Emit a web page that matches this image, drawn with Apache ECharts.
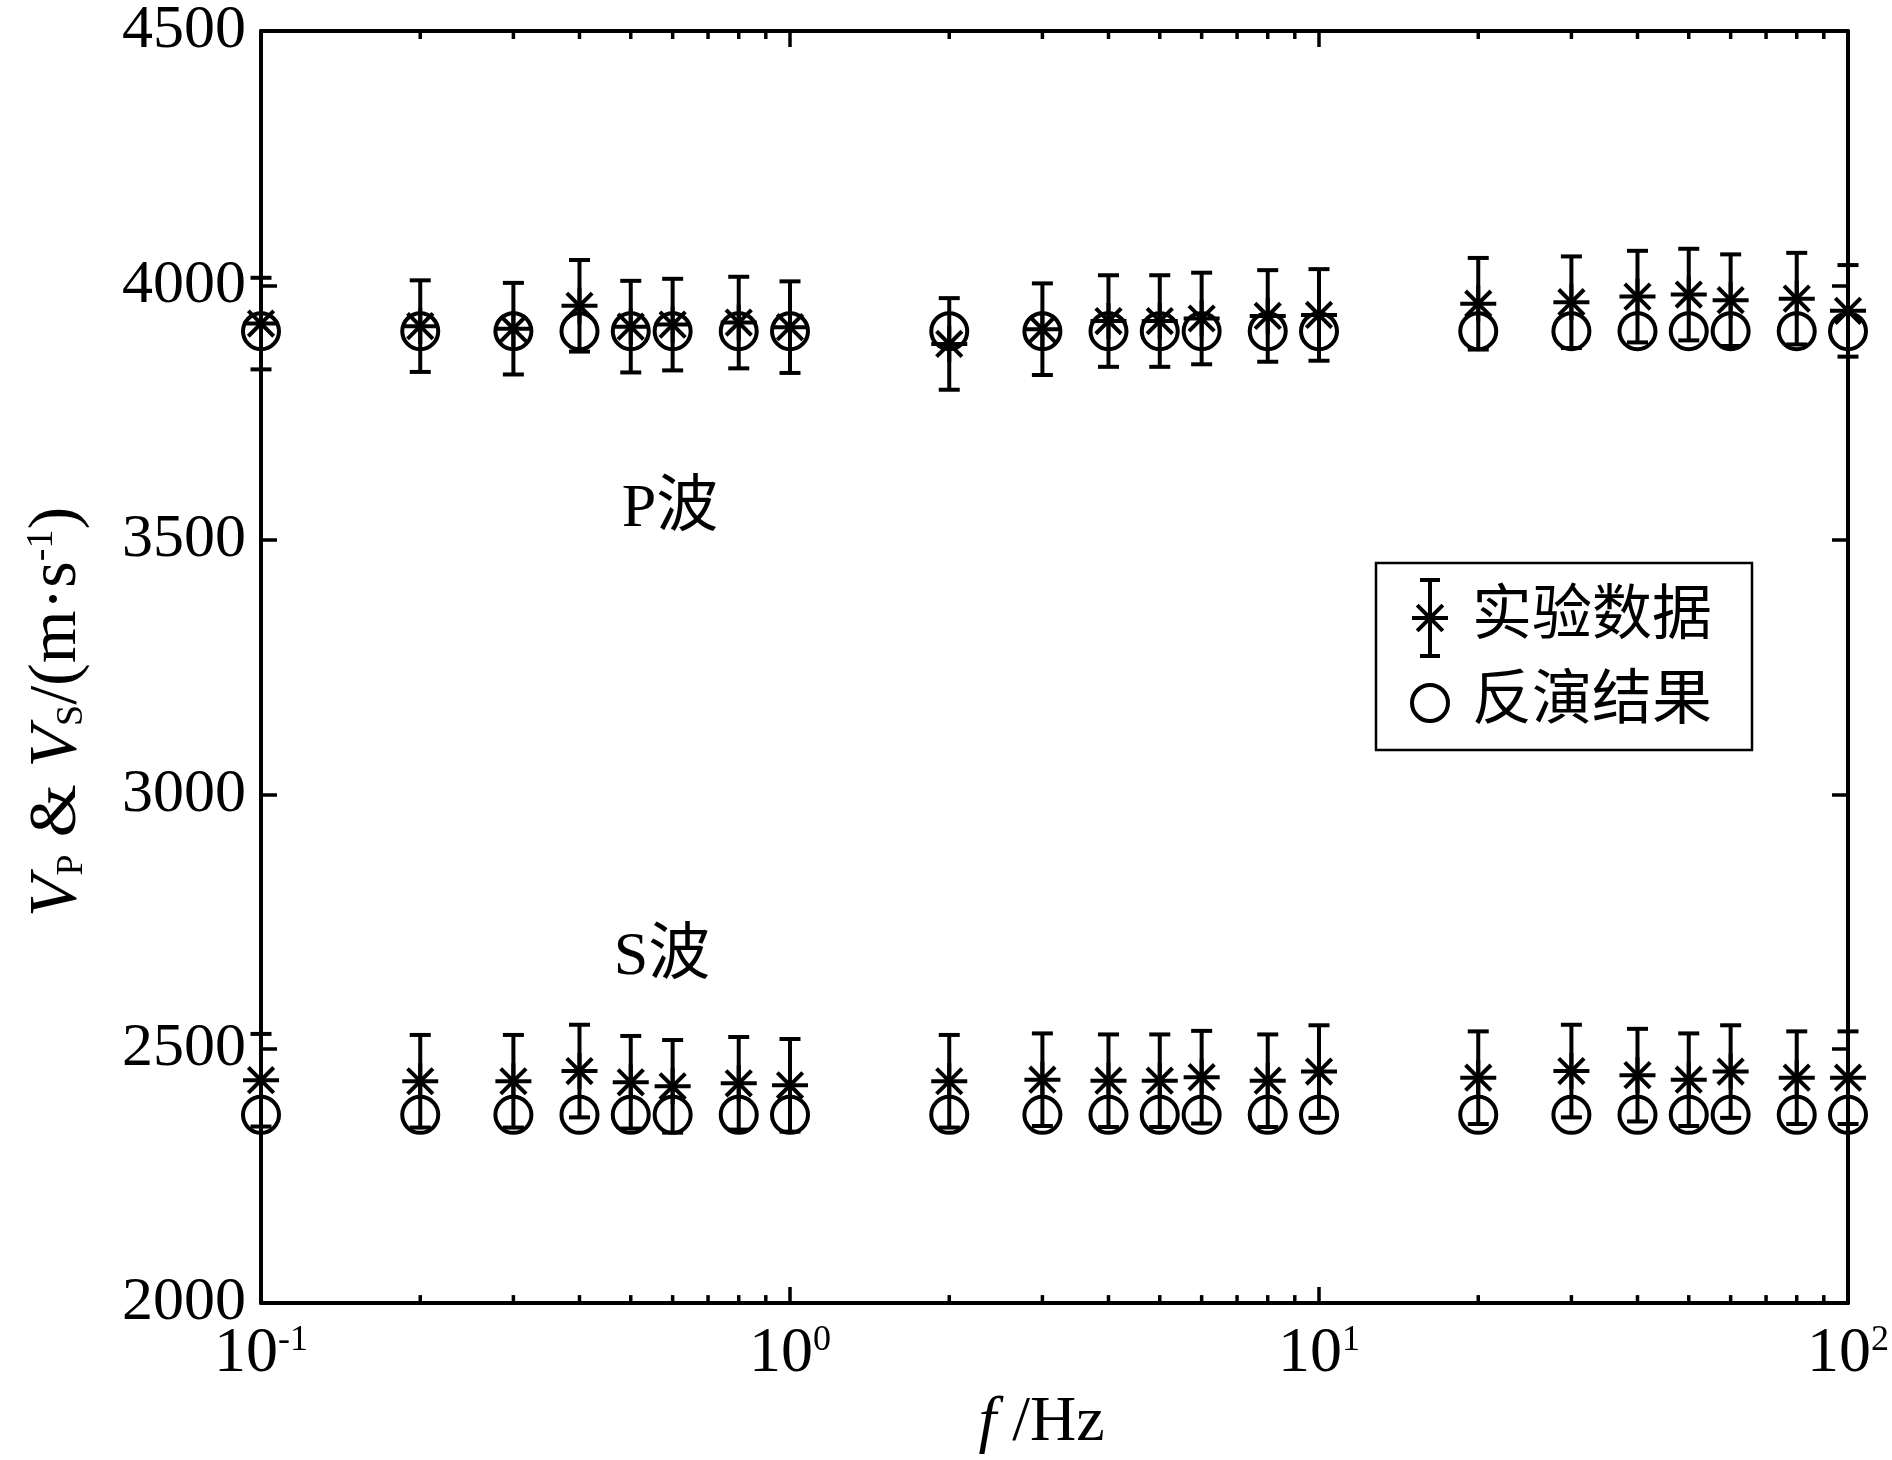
<!DOCTYPE html>
<html lang="zh">
<head>
<meta charset="UTF-8">
<title>VP & VS vs f</title>
<style>
  html, body { margin: 0; padding: 0; background: #fff; }
  #main { width: 1892px; height: 1460px; }
</style>
</head>
<body>
<div id="main"></div>
<script src="https://cdn.jsdelivr.net/npm/echarts@6/dist/echarts.min.js"></script>
<script>
    // frequencies (Hz)
    var freqs = [0.1, 0.2, 0.3, 0.4, 0.5, 0.6, 0.8, 1, 2, 3, 4, 5, 6, 8, 10, 20, 30, 40, 50, 60, 80, 100];

    // P wave: experiment (with error) and inversion
    var pExp = [3925, 3920, 3915, 3960, 3919, 3923, 3927, 3918, 3885, 3914, 3930, 3930, 3935, 3940, 3942, 3964, 3967, 3978, 3982, 3971, 3974, 3950];
    var pErr = [90, 90, 90, 90, 90, 90, 90, 90, 90, 90, 90, 90, 90, 90, 90, 90, 90, 90, 90, 90, 90, 90];
    var pInv = [3910, 3910, 3910, 3910, 3910, 3910, 3910, 3910, 3910, 3910, 3910, 3910, 3910, 3910, 3910, 3910, 3910, 3910, 3910, 3910, 3910, 3910];

    // S wave
    var sExp = [2438, 2436, 2436, 2456, 2434, 2426, 2432, 2428, 2436, 2439, 2437, 2437, 2444, 2437, 2455, 2443, 2456, 2448, 2439, 2455, 2443, 2443];
    var sErr = [91, 91, 91, 91, 91, 91, 91, 91, 91, 91, 91, 91, 91, 91, 91, 91, 91, 91, 91, 91, 91, 91];
    var sInv = [2370, 2370, 2370, 2370, 2370, 2370, 2370, 2370, 2370, 2370, 2370, 2370, 2370, 2370, 2370, 2370, 2370, 2370, 2370, 2370, 2370, 2370];

    // axes
    var yMin = 2000, yMax = 4500, yStep = 500;
    var xMin = 0.1, xMax = 100;
    var xTickSup = ['-1', '0', '1', '2'];
    var minorTicks = [0.2, 0.3, 0.4, 0.5, 0.6, 0.7, 0.8, 0.9, 2, 3, 4, 5, 6, 7, 8, 9, 20, 30, 40, 50, 60, 70, 80, 90];

    var serif = "'Liberation Serif', 'Times New Roman', 'Noto Sans CJK SC', serif";
    var cjk = "'Liberation Serif', 'Noto Sans CJK SC', serif";
    var LW = 4;

    function pack(vals, errs) {
        return freqs.map(function (f, i) { return errs ? [f, vals[i], errs[i]] : [f, vals[i]]; });
    }

    function renderErr(params, api) {
        var f = api.value(0), v = api.value(1), e = api.value(2);
        var c = api.coord([f, v]);
        var t = api.coord([f, v + e]);
        var b = api.coord([f, v - e]);
        var cap = 10.5, arm = 18, d = 12.7;
        var st = { stroke: '#000', lineWidth: LW, fill: null };
        function ln(x1, y1, x2, y2) {
            return { type: 'line', shape: { x1: x1, y1: y1, x2: x2, y2: y2 }, style: st };
        }
        return {
            type: 'group',
            children: [
                ln(c[0], t[1], c[0], b[1]),
                ln(c[0] - cap, t[1], c[0] + cap, t[1]),
                ln(c[0] - cap, b[1], c[0] + cap, b[1]),
                ln(c[0] - arm, c[1], c[0] + arm, c[1]),
                ln(c[0], c[1] - arm, c[0], c[1] + arm),
                ln(c[0] - d, c[1] - d, c[0] + d, c[1] + d),
                ln(c[0] - d, c[1] + d, c[0] + d, c[1] - d)
            ]
        };
    }

    function renderMinor(params, api) {
        var b = api.coord([api.value(0), yMin]);
        var t = api.coord([api.value(0), yMax]);
        var st = { stroke: '#000', lineWidth: 3.5 };
        return {
            type: 'group',
            children: [
                { type: 'line', shape: { x1: b[0], y1: b[1], x2: b[0], y2: b[1] - 8 }, style: st },
                { type: 'line', shape: { x1: t[0], y1: t[1], x2: t[0], y2: t[1] + 8 }, style: st }
            ]
        };
    }

    var errIcon = 'path://M16,0H20V80H16ZM8,0H28V4H8ZM8,76H28V80H8ZM0,38H36V42H0Z' +
        'M6.59,25.76L32.24,51.41L29.41,54.24L3.76,28.59ZM3.76,51.41L29.41,25.76L32.24,28.59L6.59,54.24Z';

    var circleStyle = { color: 'rgba(0,0,0,0)', borderColor: '#000', borderWidth: LW, opacity: 1 };

    var chartDom = document.getElementById('main');
    var myChart = echarts.init(chartDom);
    var option;

    option = {
        backgroundColor: '#fff',
        animation: false,
        grid: { left: 261, right: 38, top: 31, bottom: 140 },
        legend: {
            orient: 'vertical',
            left: 1376,
            top: 563,
            itemWidth: 36,
            itemHeight: 80,
            itemGap: 15,
            padding: [15, 40, 17, 34],
            borderColor: '#000',
            borderWidth: 2.5,
            backgroundColor: '#fff',
            textStyle: { fontSize: 60, fontFamily: cjk, color: '#000', padding: [0, 0, 0, 19] },
            data: [
                { name: '实验数据', icon: errIcon, itemStyle: { color: '#000', borderWidth: 0, opacity: 1 } },
                { name: '反演结果', icon: 'circle', itemStyle: circleStyle }
            ]
        },
        xAxis: [
            {
                type: 'log',
                logBase: 10,
                min: xMin,
                max: xMax,
                position: 'bottom',
                name: '{i|f}{t| /Hz}',
                nameLocation: 'middle',
                nameGap: 60,
                nameTextStyle: {
                    padding: [0, 26, 0, 0],
                    rich: {
                        i: { fontSize: 64, fontFamily: serif, fontStyle: 'italic', color: '#000' },
                        t: { fontSize: 64, fontFamily: serif, color: '#000' }
                    }
                },
                axisLine: { lineStyle: { color: '#000', width: 4 } },
                axisTick: { inside: true, length: 16, lineStyle: { color: '#000', width: 3.5 } },
                splitLine: { show: false },
                axisLabel: {
                    margin: 19,
                    formatter: function (v) {
                        var i = Math.round(Math.log10(v)) + 1;
                        return '{b|10}{s|' + xTickSup[i] + '}';
                    },
                    rich: {
                        b: { fontSize: 64, lineHeight: 64, fontFamily: serif, color: '#000' },
                        s: { fontSize: 36, lineHeight: 36, fontFamily: serif, color: '#000', verticalAlign: 'top' }
                    }
                }
            },
            {
                type: 'log',
                logBase: 10,
                min: xMin,
                max: xMax,
                position: 'top',
                axisLine: { lineStyle: { color: '#000', width: 4 } },
                axisTick: { inside: true, length: 16, lineStyle: { color: '#000', width: 3.5 } },
                axisLabel: { show: false },
                splitLine: { show: false }
            }
        ],
        yAxis: [
            {
                type: 'value',
                min: yMin,
                max: yMax,
                interval: yStep,
                position: 'left',
                axisLine: { show: true, lineStyle: { color: '#000', width: 4 } },
                axisTick: { show: true, inside: true, length: 16, lineStyle: { color: '#000', width: 3.5 } },
                splitLine: { show: false },
                axisLabel: {
                    margin: 15,
                    fontSize: 62,
                    fontFamily: serif,
                    color: '#000',
                    formatter: function (v) { return String(v); }
                }
            },
            {
                type: 'value',
                min: yMin,
                max: yMax,
                interval: yStep,
                position: 'right',
                axisLine: { show: true, lineStyle: { color: '#000', width: 4 } },
                axisTick: { show: true, inside: true, length: 16, lineStyle: { color: '#000', width: 3.5 } },
                splitLine: { show: false },
                axisLabel: { show: false }
            }
        ],
        graphic: [
            {
                type: 'text',
                x: 57,
                y: 712,
                rotation: Math.PI / 2,
                style: {
                    text: '{i|V}{sub|P}{t| & }{i|V}{sub|S}{t|/(m·s}{sup|-1}{t|)}',
                    align: 'center',
                    verticalAlign: 'middle',
                    fill: '#000',
                    rich: {
                        i: { fontSize: 68, lineHeight: 68, fontFamily: serif, fontStyle: 'italic', fill: '#000' },
                        t: { fontSize: 68, lineHeight: 68, fontFamily: serif, fill: '#000' },
                        sub: { fontSize: 38, lineHeight: 38, fontFamily: serif, fill: '#000', verticalAlign: 'bottom' },
                        sup: { fontSize: 38, lineHeight: 38, fontFamily: serif, fill: '#000', verticalAlign: 'top' }
                    }
                }
            },
            {
                type: 'text',
                x: 670,
                y: 510,
                style: { text: 'P波', font: '62px ' + cjk, fill: '#000', align: 'center', verticalAlign: 'middle' }
            },
            {
                type: 'text',
                x: 662,
                y: 958,
                style: { text: 'S波', font: '62px ' + cjk, fill: '#000', align: 'center', verticalAlign: 'middle' }
            }
        ],
        series: [
            {
                name: 'minor',
                type: 'custom',
                silent: true,
                renderItem: renderMinor,
                data: minorTicks.map(function (v) { return [v, yMin]; }),
                encode: { x: 0, y: 1 },
                clip: false
            },
            {
                name: '反演结果',
                type: 'scatter',
                symbol: 'circle',
                symbolSize: 36,
                itemStyle: circleStyle,
                data: pack(pInv),
                clip: false
            },
            {
                name: '反演结果',
                type: 'scatter',
                symbol: 'circle',
                symbolSize: 36,
                itemStyle: circleStyle,
                data: pack(sInv),
                clip: false
            },
            {
                name: '实验数据',
                type: 'custom',
                renderItem: renderErr,
                data: pack(pExp, pErr),
                encode: { x: 0, y: 1 },
                itemStyle: { color: '#000' },
                clip: false
            },
            {
                name: '实验数据',
                type: 'custom',
                renderItem: renderErr,
                data: pack(sExp, sErr),
                encode: { x: 0, y: 1 },
                itemStyle: { color: '#000' },
                clip: false
            }
        ]
    };

    option && myChart.setOption(option);
</script>
</body>
</html>
